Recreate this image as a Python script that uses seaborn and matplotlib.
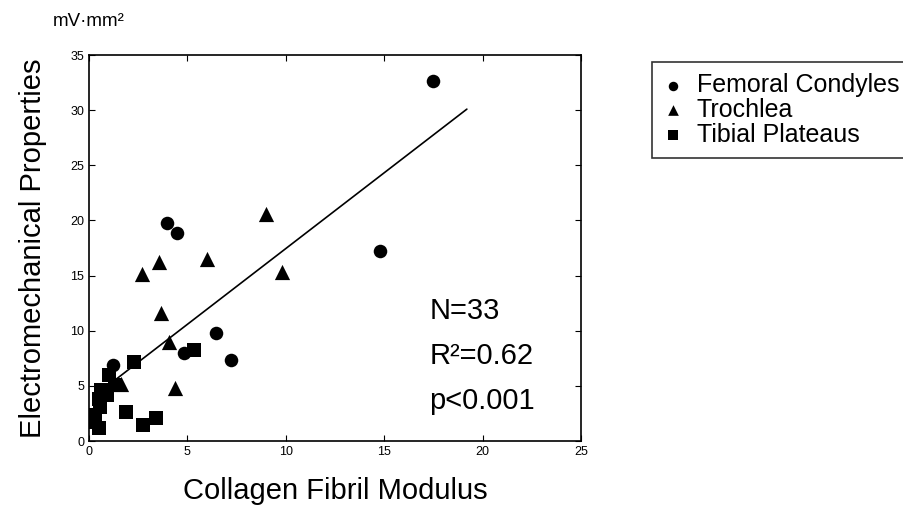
import numpy as np
import pandas as pd
import matplotlib.pyplot as plt
import seaborn as sns

# data
femoral_x = [17.5, 14.8, 3.95, 4.45, 6.45, 4.85, 7.2, 1.2]
femoral_y = [32.6, 17.2, 19.8, 18.9, 9.8, 8.0, 7.3, 6.9]

trochlea_x = [9.0, 6.0, 9.8, 3.55, 2.7, 3.65, 4.05, 1.65, 4.35]
trochlea_y = [20.6, 16.5, 15.3, 16.25, 15.1, 11.6, 9.0, 5.2, 4.8]

tibial_x = [5.35, 2.3, 1.0, 1.3, 0.6, 0.9, 0.75, 0.5, 0.55, 0.3, 0.15, 0.1, 0.5, 1.9, 2.75, 3.4]
tibial_y = [8.25, 7.15, 6.0, 5.1, 4.6, 4.2, 4.4, 3.8, 3.1, 2.4, 2.0, 1.7, 1.2, 2.65, 1.45, 2.1]

# regression line
fit_slope = 1.374
fit_intercept = 3.71
fit_x = [0.3, 19.2]

groups = ["Femoral Condyles", "Trochlea", "Tibial Plateaus"]

df = pd.concat([
    pd.DataFrame({"x": femoral_x, "y": femoral_y, "site": groups[0]}),
    pd.DataFrame({"x": trochlea_x, "y": trochlea_y, "site": groups[1]}),
    pd.DataFrame({"x": tibial_x, "y": tibial_y, "site": groups[2]}),
])

sns.set_theme(style="ticks")
plt.rcParams["font.family"] = ["Liberation Sans", "DejaVu Sans"]
plt.rcParams["text.color"] = "black"
plt.rcParams["axes.labelcolor"] = "black"

fig = plt.figure(figsize=(9.04, 5.21), dpi=100)
ax = fig.add_axes([89 / 904, 1 - 441 / 521, (581 - 89) / 904, (441 - 55) / 521])

markers = {"Femoral Condyles": "o", "Trochlea": "^", "Tibial Plateaus": "s"}
sizes = {"Femoral Condyles": 95, "Trochlea": 120, "Tibial Plateaus": 95}
for g in groups:
    sub = df[df["site"] == g]
    sns.scatterplot(data=sub, x="x", y="y", marker=markers[g], s=sizes[g],
                    color="black", edgecolor="black", linewidth=0, ax=ax,
                    label=g, zorder=3)

fx = np.array(fit_x)
sns.lineplot(x=fx, y=fit_intercept + fit_slope * fx, color="black", lw=1.2,
             ax=ax, legend=False, zorder=2)

ax.set_xlim(0, 25)
ax.set_ylim(0, 35)
ax.set_xticks([0, 5, 10, 15, 20, 25])
ax.set_yticks([0, 5, 10, 15, 20, 25, 30, 35])
ax.tick_params(direction="in", length=4, width=0.8, labelsize=9, colors="black",
               top=True, right=True)
for sp in ax.spines.values():
    sp.set_color("black")
    sp.set_linewidth(1.2)

ax.set_xlabel("Collagen Fibril Modulus", fontsize=21, labelpad=14)
ax.set_ylabel("Electromechanical Properties", fontsize=21, labelpad=17)

fig.text(53 / 904, 1 - 21 / 521, "mV·mm²", fontsize=13.5, ha="left", va="center")

for txt, yy in [("N=33", 11.8), ("R²=0.62", 7.7), ("p<0.001", 3.6)]:
    ax.text(17.3, yy, txt, fontsize=21, ha="left", va="center")

handles, labels = ax.get_legend_handles_labels()
ax.legend_.remove()
leg = fig.legend(handles, labels, loc="upper left",
                 bbox_to_anchor=(652 / 904, 1 - 62 / 521), borderaxespad=0,
                 fontsize=18, frameon=True, fancybox=False, handletextpad=0.59,
                 handlelength=0.75, labelspacing=0.03, markerscale=0.7,
                 borderpad=0.45)
leg.get_frame().set_edgecolor("black")
leg.get_frame().set_linewidth(1.2)

fig.savefig("out.png", dpi=100)
